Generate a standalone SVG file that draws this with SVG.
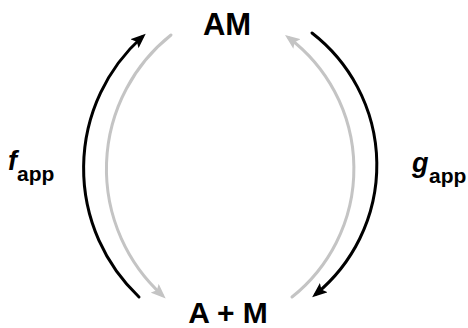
<svg xmlns="http://www.w3.org/2000/svg" width="468" height="328" viewBox="0 0 468 328">
<style>
.lbl{font-family:"Liberation Sans",Arial,sans-serif;font-weight:bold;fill:#000}
.blk{fill:none;stroke:#000;stroke-width:3;stroke-linecap:round}
.gry{fill:none;stroke:#c4c4c4;stroke-width:3;stroke-linecap:round}
</style>
<defs>
<marker id="ab" markerUnits="userSpaceOnUse" markerWidth="16" markerHeight="12" refX="10" refY="6" orient="auto" viewBox="0 0 16 12">
<path d="M0,0 L15,6 L0,12 L3,6 z" fill="#000"/>
</marker>
<marker id="ag" markerUnits="userSpaceOnUse" markerWidth="16" markerHeight="12" refX="10" refY="6" orient="auto" viewBox="0 0 16 12">
<path d="M0,0 L15,6 L0,12 L3,6 z" fill="#c4c4c4"/>
</marker>
</defs>
<g id="AM"><text class="lbl" x="227" y="35" font-size="31" text-anchor="middle">AM</text></g>
<g id="A_M"><text class="lbl" x="228" y="323" font-size="30" text-anchor="middle">A + M</text></g>
<g id="fapp"><text class="lbl" x="8" y="170" font-size="27" font-style="italic">f</text><text class="lbl" x="17" y="181" font-size="21">app</text></g>
<g id="gapp"><text class="lbl" x="412" y="172" font-size="27" font-style="italic">g</text><text class="lbl" x="429" y="183" font-size="21">app</text></g>
<g id="connectors">
<path class="blk" d="M139,297 A177,177 0 0 1 142,37" marker-end="url(#ab)"/>
<path class="gry" d="M171,35 A171,171 0 0 0 162,295" marker-end="url(#ag)"/>
<path class="gry" d="M292,297 A164,164 0 0 0 289,38" marker-end="url(#ag)"/>
<path class="blk" d="M312,33 A167,167 0 0 1 316,294" marker-end="url(#ab)"/>
</g>
</svg>
